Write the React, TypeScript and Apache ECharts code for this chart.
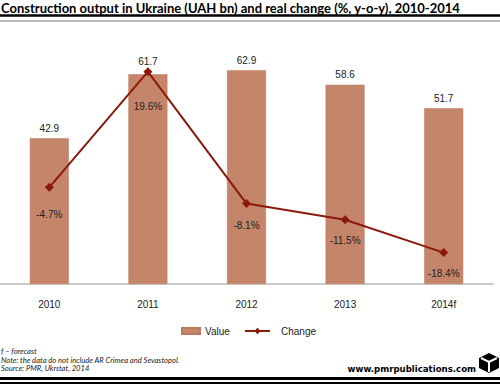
import React, { useEffect, useRef } from "react";
import * as echarts from "echarts";

const categories = ["2010", "2011", "2012", "2013", "2014f"];
const values = [42.9, 61.7, 62.9, 58.6, 51.7];
const changes = [-4.7, 19.6, -8.1, -11.5, -18.4];
const titleText = "Construction output in Ukraine (UAH bn) and real change (%, y-o-y), 2010-2014";
const notes = [
  "f – forecast",
  "Note: the data do not include AR Crimea and Sevastopol.",
  "Source: PMR, Ukrstat, 2014",
];
const website = "www.pmrpublications.com";

const BAR = "#c5856a";
const LINE = "#8c1a0c";
const FONT = "'Liberation Sans', Arial, sans-serif";

export default function App() {
  const ref = useRef<HTMLDivElement>(null);
  useEffect(() => {
    document.body.style.margin = "0";
    const chart = echarts.init(ref.current!, null, { renderer: "svg" });
    const labelDist = [18, 25, 12, 11, 11];
    const barLabelDist = [5, 8, 5, 5, 5];
    chart.setOption({
      animation: false,
      backgroundColor: "#fff",
      textStyle: { fontFamily: FONT },
      grid: { left: 0, right: 7, top: 46, bottom: 101 },
      xAxis: {
        type: "category",
        data: categories,
        axisTick: { show: false },
        axisLine: { lineStyle: { color: "#cfcac6", width: 2 } },
        axisLabel: { color: "#222", fontSize: 10, margin: 15, fontFamily: FONT },
      },
      yAxis: [
        { type: "value", min: 0, max: 70, show: false, splitLine: { show: false } },
        { type: "value", min: -25, max: 25, show: false, splitLine: { show: false } },
      ],
      legend: [
        {
          data: [{ name: "Value", icon: "rect" }],
          left: 181,
          top: 326,
          itemWidth: 18,
          itemHeight: 6,
          itemGap: 0,
          padding: 0,
          textStyle: { color: "#222", fontSize: 10, fontFamily: FONT },
        },
        {
          data: [{ name: "Change" }],
          left: 244,
          top: 326,
          itemWidth: 25,
          itemHeight: 8,
          itemGap: 0,
          padding: 0,
          textStyle: { color: "#222", fontSize: 10, fontFamily: FONT, padding: [0, 0, 0, 6] },
        },
      ],
      series: [
        {
          name: "Value",
          type: "bar",
          data: values.map((v, i) => ({ value: v, label: { distance: barLabelDist[i] } })),
          barWidth: 39,
          itemStyle: { color: BAR, borderColor: "#bb7a5f", borderWidth: 0.5 },
          label: {
            show: true,
            position: "top",
            color: "#222",
            fontSize: 10,
            fontFamily: FONT,
          },
        },
        {
          name: "Change",
          type: "line",
          yAxisIndex: 1,
          data: changes.map((v, i) => ({ value: v, label: { distance: labelDist[i] } })),
          symbol: "diamond",
          symbolSize: 9,
          lineStyle: { color: LINE, width: 2 },
          itemStyle: { color: LINE },
          label: {
            show: true,
            position: "bottom",
            color: "#222",
            fontSize: 10,
            fontFamily: FONT,
            formatter: (p: any) => p.value.toFixed(1) + "%",
          },
        },
      ],
      graphic: [
        {
          type: "text",
          x: 1,
          y: 1,
          style: {
            text: titleText,
            font: "bold 13px Lato, sans-serif",
            fill: "#000",
            verticalAlign: "top",
          },
        },
        { type: "line", shape: { x1: 0, y1: 15.5, x2: 500, y2: 15.5 }, style: { stroke: "#000", lineWidth: 2.5 } },
        { type: "line", shape: { x1: 0, y1: 21, x2: 500, y2: 21 }, style: { stroke: "#a0a0a0", lineWidth: 1.5 } },
        ...notes.map((t, i) => ({
          type: "text",
          x: 1,
          y: 351 + i * 8.5,
          style: {
            text: t,
            font: "italic 7.6px Lato, sans-serif",
            fill: "#222",
            verticalAlign: "middle",
          },
        })),
        {
          type: "text",
          x: 476,
          y: 369,
          style: {
            text: website,
            font: "bold 8.6px 'DejaVu Sans', sans-serif",
            fill: "#000",
            align: "right",
            verticalAlign: "middle",
          },
        },
        {
          type: "polygon",
          shape: { points: [[489, 353], [499, 358], [499, 368], [489, 373], [479, 368], [479, 358]] },
          style: { fill: "#000" },
        },
        {
          type: "polyline",
          shape: { points: [[481, 358], [489, 362], [497, 358]] },
          style: { stroke: "#fff", lineWidth: 2, fill: null },
        },
        {
          type: "line",
          shape: { x1: 489, y1: 362, x2: 489, y2: 372 },
          style: { stroke: "#fff", lineWidth: 2 },
        },
        { type: "line", shape: { x1: 0, y1: 378.5, x2: 500, y2: 378.5 }, style: { stroke: "#000", lineWidth: 3 } },
        { type: "line", shape: { x1: 0, y1: 383, x2: 500, y2: 383 }, style: { stroke: "#000", lineWidth: 2 } },
      ],
    });
    return () => chart.dispose();
  }, []);
  return <div ref={ref} style={{ width: 500, height: 385 }} />;
}
